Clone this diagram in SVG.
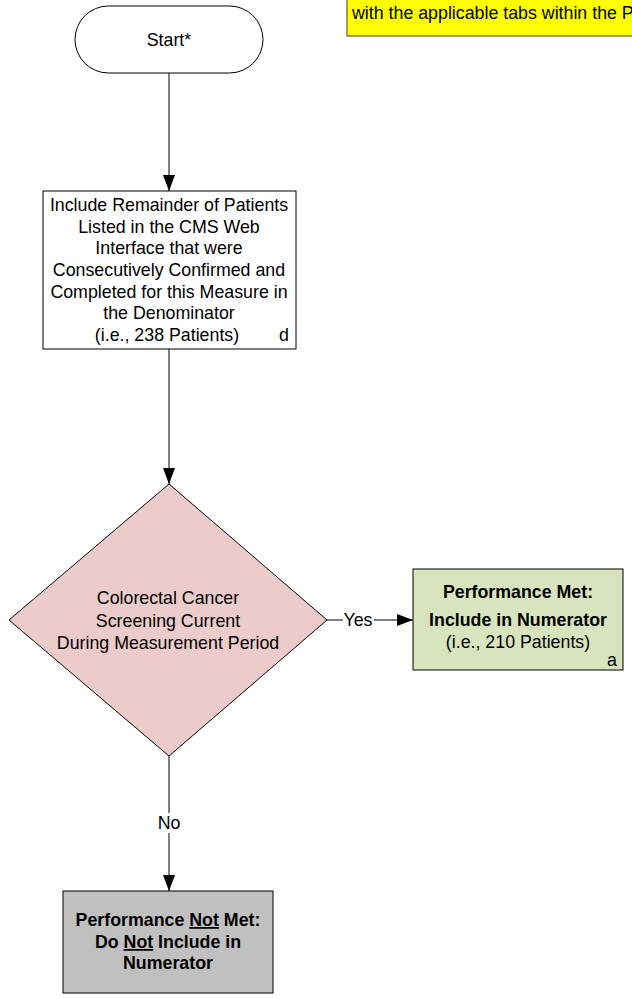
<svg xmlns="http://www.w3.org/2000/svg" width="632" height="999" viewBox="0 0 632 999">
<style>
text{font-family:"Liberation Sans",Arial,sans-serif;font-size:17.8px;fill:#000}
.c{text-anchor:middle}
.b{font-weight:bold}
.ln{stroke:#000;stroke-width:1;fill:none}
</style>
<defs>
<marker id="ah" viewBox="0 0 16 12" refX="16" refY="6" markerWidth="16" markerHeight="12" markerUnits="userSpaceOnUse" orient="auto">
<path d="M0,0 L16,6 L0,12 Z" fill="#000"/>
</marker>
</defs>
<rect width="632" height="999" fill="#fff"/>
<g id="note">
<rect x="347" y="-5" width="300" height="41" fill="#ffff00" stroke="#404000" stroke-width="1"/>
<text x="352" y="19">with the applicable tabs within the P</text>
</g>
<g id="start">
<rect x="75" y="6" width="188" height="67" rx="33.5" ry="33.5" fill="#fff" stroke="#000"/>
<text class="c" x="169" y="46">Start*</text>
</g>
<g id="include">
<rect x="43" y="191" width="253" height="158" fill="#fff" stroke="#000"/>
<text class="c" x="169" y="211">Include Remainder of Patients</text>
<text class="c" x="169" y="233">Listed in the CMS Web</text>
<text class="c" x="169" y="254">Interface that were</text>
<text class="c" x="169" y="276">Consecutively Confirmed and</text>
<text class="c" x="169" y="298">Completed for this Measure in</text>
<text class="c" x="169" y="319">the Denominator</text>
<text class="c" x="167" y="341">(i.e., 238 Patients)</text>
<text class="c" x="284" y="341">d</text>
</g>
<g id="decision">
<polygon points="169,484 327,620 169,756 9,620" fill="#ebcccb" stroke="#000"/>
<text class="c" x="168" y="604">Colorectal Cancer</text>
<text class="c" x="168" y="627">Screening Current</text>
<text class="c" x="168" y="649">During Measurement Period</text>
</g>
<g id="met">
<rect x="413" y="569" width="210" height="101" fill="#d7e4bd" stroke="#000"/>
<text class="c b" x="518" y="598">Performance Met:</text>
<text class="c b" x="518" y="626">Include in Numerator</text>
<text class="c" x="518" y="648">(i.e., 210 Patients)</text>
<text class="c" x="612" y="666">a</text>
</g>
<g id="notmet">
<rect x="63" y="891" width="210" height="102" fill="#c0c0c0" stroke="#000"/>
<text class="c b" x="168" y="926">Performance <tspan text-decoration="underline">Not</tspan> Met:</text>
<text class="c b" x="168" y="948">Do <tspan text-decoration="underline">Not</tspan> Include in</text>
<text class="c b" x="168" y="969">Numerator</text>
</g>
<g id="connectors">
<line class="ln" x1="169" y1="73" x2="169" y2="191" marker-end="url(#ah)"/>
<line class="ln" x1="169" y1="349" x2="169" y2="484" marker-end="url(#ah)"/>
<line class="ln" x1="327" y1="620" x2="413" y2="620" marker-end="url(#ah)"/>
<rect x="343" y="610" width="31" height="20" fill="#fff"/>
<text class="c" x="358" y="626">Yes</text>
<line class="ln" x1="169" y1="756" x2="169" y2="891" marker-end="url(#ah)"/>
<rect x="156" y="813" width="26" height="20" fill="#fff"/>
<text class="c" x="169" y="829">No</text>
</g>
</svg>
